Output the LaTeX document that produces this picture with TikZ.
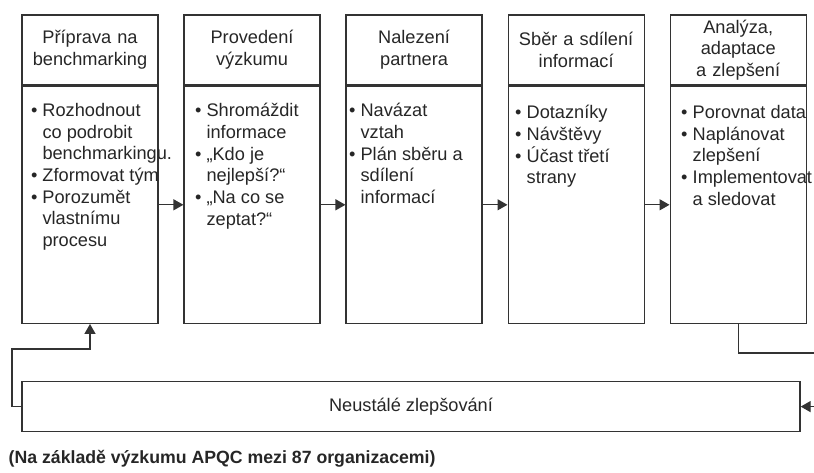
\documentclass[tikz,border=0pt]{standalone}
\usepackage{fontspec}
\setmainfont{Liberation Sans}
\usetikzlibrary{arrows.meta,positioning}

\newcommand{\itm}{\makebox[11.5pt][l]{\textbullet}}
\newcommand{\cont}{\hspace*{11.5pt}}

\begin{document}
\begin{tikzpicture}[
  x=1pt, y=1pt,
  font=\fontsize{18.2pt}{21.7pt}\selectfont,
  line width=1.3pt,
  node distance=24.75pt,
  headbox/.style={draw=black!80, text=black!85, align=center, text width=126pt, inner xsep=5pt, minimum height=70pt},
  bodybox/.style={draw=black!80, minimum width=136pt, minimum height=237pt},
  listtext/.style={align=left, anchor=north west, inner sep=0pt, text=black!85},
  loopbox/.style={draw=black!80, text=black!85, minimum width=778pt, minimum height=50pt},
  arr/.style={draw=black!80, -{Triangle[length=10pt,width=11pt]}},
  note/.style={font=\fontsize{17.7pt}{20pt}\selectfont\bfseries, anchor=base west, inner sep=0pt, text=black!85}
]
\useasboundingbox (0,0) rectangle (814,-472);

% phases
\node[headbox] (head1) at (90,-50) {Příprava na\\benchmarking};
\node[headbox, right=of head1] (head2) {Provedení\\výzkumu};
\node[headbox, right=of head2] (head3) {Nalezení\\partnera};
\node[headbox, right=of head3] (head4) {Sběr a sdílení\\informací};
\node[headbox, right=of head4] (head5) {Analýza,\\adaptace\\a zlepšení};

\node[bodybox, below=0pt of head1] (body1) {};
\node[bodybox, below=0pt of head2] (body2) {};
\node[bodybox, below=0pt of head3] (body3) {};
\node[bodybox, below=0pt of head4] (body4) {};
\node[bodybox, below=0pt of head5] (body5) {};

\node[listtext] (list1) at ([xshift=9pt,yshift=-17pt]body1.north west)
  {\itm Rozhodnout\\\cont co podrobit\\\cont benchmarkingu.\\\itm Zformovat tým\\\itm Porozumět\\\cont vlastnímu\\\cont procesu};
\node[listtext] (list2) at ([xshift=11pt,yshift=-17pt]body2.north west)
  {\itm Shromáždit\\\cont informace\\\itm „Kdo je\\\cont nejlepší?“\\\itm „Na co se\\\cont zeptat?“};
\node[listtext] (list3) at ([xshift=3pt,yshift=-17pt]body3.north west)
  {\itm Navázat\\\cont vztah\\\itm Plán sběru a\\\cont sdílení\\\cont informací};
\node[listtext] (list4) at ([xshift=7pt,yshift=-19pt]body4.north west)
  {\itm Dotazníky\\\itm Návštěvy\\\itm Účast třetí\\\cont strany};
\node[listtext] (list5) at ([xshift=11pt,yshift=-19pt]body5.north west)
  {\itm Porovnat data\\\itm Naplánovat\\\cont zlepšení\\\itm Implementovat\\\cont a sledovat};

\draw[arr] (body1) -- (body2);
\draw[arr] (body2) -- (body3);
\draw[arr] (body3) -- (body4);
\draw[arr] (body4) -- (body5);

% feedback loop
\node[loopbox, below right=57pt and 0pt of body1.south west] (loop) {Neustálé zlepšování};
\coordinate (edgeR) at (830,-353);
\coordinate (edgeL) at (12,-349);
\draw[arr] (body5.south) |- (edgeR) |- (loop.east);
\draw[arr] (loop.west) -| (edgeL) -| (body1.south);

\node[note] (note) at (8,-463) {(Na základě výzkumu APQC mezi 87 organizacemi)};
\end{tikzpicture}
\end{document}
